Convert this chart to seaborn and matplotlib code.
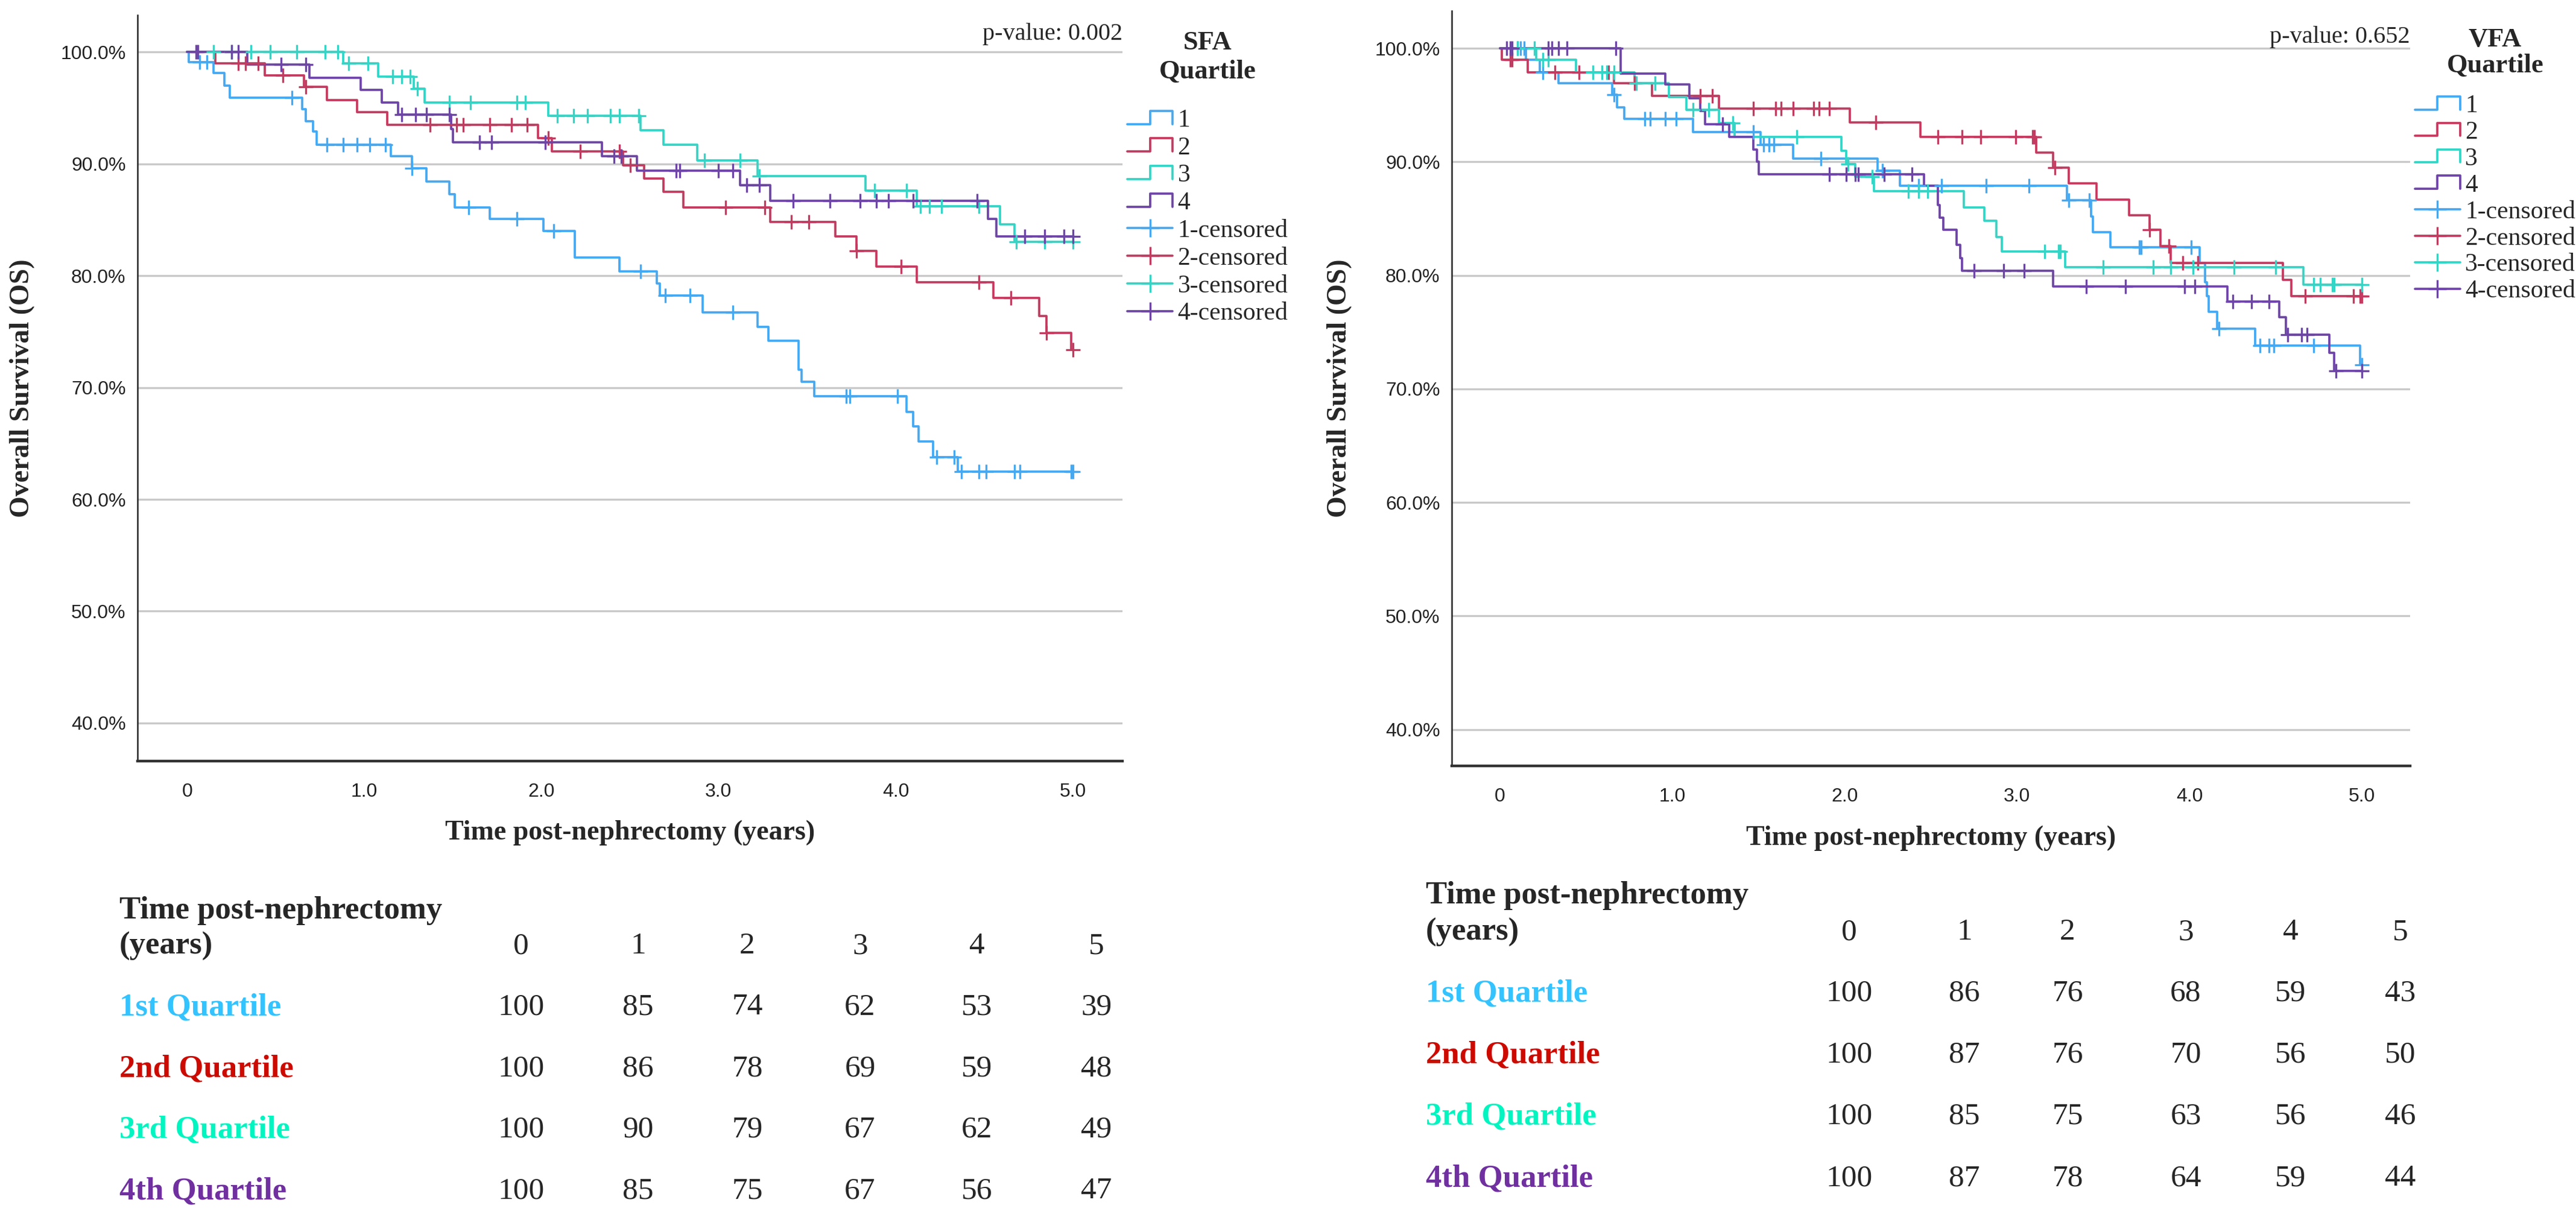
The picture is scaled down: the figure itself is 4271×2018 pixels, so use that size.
import numpy as np
import pandas as pd
import matplotlib
matplotlib.use("Agg")
import matplotlib.pyplot as plt
from matplotlib.lines import Line2D
from matplotlib.legend_handler import HandlerBase
import seaborn as sns

# ---------------- data ----------------
groups = ["1", "2", "3", "4"]

# SFA panel: event times (years) and survival (%) after each drop, censor times
sfa_t1 = [0.01, 0.15, 0.21, 0.24, 0.65, 0.67, 0.71, 0.73, 1.15, 1.27, 1.35, 1.48, 1.51, 1.71, 2.01,
          2.19, 2.44, 2.65, 2.67, 2.91, 3.22, 3.28, 3.45, 3.47, 3.54, 4.06, 4.10, 4.13, 4.21, 4.35]
sfa_s1 = [99.1, 98.1, 97.0, 95.9, 94.9, 93.8, 92.9, 91.7, 90.7, 89.6, 88.4, 87.3, 86.1, 85.1, 84.0,
          81.6, 80.4, 79.3, 78.2, 76.7, 75.4, 74.2, 71.6, 70.5, 69.2, 67.8, 66.5, 65.2, 63.8, 62.5]
sfa_c1 = [0.07, 0.11, 0.59, 0.79, 0.88, 0.96, 1.03, 1.12, 1.27, 1.59, 1.86, 2.07, 2.56, 2.70, 2.84,
          3.08, 3.72, 3.74, 4.01, 4.23, 4.33, 4.37, 4.47, 4.51, 4.67, 4.70, 4.99, 5.0]

sfa_t2 = [0.16, 0.44, 0.66, 0.79, 0.96, 1.13, 1.98, 2.06, 2.46, 2.58, 2.69, 2.80, 3.29, 3.66, 3.78,
          3.89, 4.12, 4.55, 4.81, 4.85, 4.99]
sfa_s2 = [99.0, 97.9, 96.9, 95.7, 94.6, 93.5, 92.3, 91.1, 89.9, 88.7, 87.5, 86.1, 84.8, 83.5, 82.2,
          80.8, 79.4, 78.0, 76.4, 74.9, 73.4]
sfa_c2 = [0.29, 0.33, 0.40, 0.54, 0.67, 1.37, 1.52, 1.56, 1.71, 1.83, 1.92, 2.04, 2.22, 2.44, 2.50,
          3.04, 3.26, 3.41, 3.51, 3.78, 4.03, 4.47, 4.65, 4.85, 5.0]

sfa_t3 = [0.88, 1.08, 1.28, 1.34, 2.04, 2.56, 2.69, 2.88, 3.22, 3.83, 4.12, 4.59, 4.67]
sfa_s3 = [99.0, 97.8, 96.7, 95.5, 94.3, 93.0, 91.7, 90.3, 88.9, 87.6, 86.2, 84.6, 83.0]
sfa_c3 = [0.15, 0.25, 0.36, 0.47, 0.62, 0.78, 0.85, 0.91, 1.02, 1.16, 1.21, 1.26, 1.30, 1.48, 1.60,
          1.86, 1.91, 2.09, 2.18, 2.26, 2.39, 2.44, 2.55, 2.92, 3.12, 3.23, 3.88, 4.06, 4.14, 4.19,
          4.26, 4.47, 4.68, 4.84, 5.0]

sfa_t4 = [0.34, 0.69, 0.98, 1.10, 1.19, 1.49, 1.50, 2.34, 2.54, 3.12, 3.29, 4.52, 4.57]
sfa_s4 = [98.9, 97.7, 96.6, 95.5, 94.4, 93.1, 91.9, 90.7, 89.4, 88.1, 86.7, 85.1, 83.5]
sfa_c4 = [0.05, 0.06, 0.25, 0.29, 0.53, 0.67, 1.21, 1.29, 1.35, 1.48, 1.65, 1.72, 2.02, 2.41, 2.45,
          2.76, 2.78, 3.00, 3.08, 3.16, 3.23, 3.42, 3.63, 3.80, 3.89, 3.96, 4.10, 4.46, 4.73, 4.84,
          4.95, 5.0]

# VFA panel
vfa_t1 = [0.15, 0.23, 0.34, 0.65, 0.68, 0.72, 1.12, 1.51, 1.70, 2.19, 2.32, 3.29, 3.43, 3.44, 3.54,
          4.06, 4.09, 4.10, 4.11, 4.16, 4.38, 4.99]
vfa_s1 = [99.0, 97.9, 96.9, 95.9, 94.8, 93.8, 92.6, 91.5, 90.3, 89.2, 87.9, 86.6, 85.2, 83.8, 82.5,
          81.1, 79.4, 78.2, 76.8, 75.3, 73.8, 72.1]
vfa_c1 = [0.10, 0.12, 0.14, 0.25, 0.66, 0.84, 0.87, 0.96, 1.02, 1.47, 1.53, 1.56, 1.59, 1.86, 2.22,
          2.43, 2.56, 2.82, 3.07, 3.30, 3.42, 3.71, 3.72, 4.01, 4.17, 4.41, 4.46, 4.49, 4.72, 5.0]

vfa_t2 = [0.01, 0.16, 0.66, 0.88, 1.27, 2.03, 2.44, 3.11, 3.21, 3.30, 3.46, 3.65, 3.77, 3.83, 3.89,
          4.54, 4.59]
vfa_s2 = [99.0, 97.9, 96.9, 95.8, 94.7, 93.5, 92.2, 90.8, 89.5, 88.1, 86.7, 85.3, 84.0, 82.6, 81.1,
          79.6, 78.2]
vfa_c2 = [0.06, 0.07, 0.32, 0.46, 0.63, 0.78, 1.16, 1.23, 1.47, 1.60, 1.63, 1.70, 1.82, 1.85, 1.91,
          2.18, 2.54, 2.68, 2.79, 2.99, 3.09, 3.10, 3.22, 3.77, 3.88, 3.96, 4.05, 4.67, 4.95, 4.99, 5.0]

vfa_t3 = [0.21, 0.44, 0.78, 0.98, 1.08, 1.27, 1.36, 1.98, 2.01, 2.06, 2.17, 2.69, 2.81, 2.88, 2.91,
          3.28, 4.66]
vfa_s3 = [99.0, 97.9, 96.9, 95.7, 94.6, 93.4, 92.2, 91.0, 89.8, 88.7, 87.4, 86.0, 84.8, 83.4, 82.1,
          80.7, 79.2]
vfa_c3 = [0.10, 0.20, 0.25, 0.28, 0.54, 0.59, 0.62, 0.66, 0.79, 0.90, 1.12, 1.21, 1.35, 1.72, 2.02,
          2.16, 2.37, 2.43, 2.48, 3.16, 3.24, 3.25, 3.50, 3.79, 3.89, 4.02, 4.26, 4.50, 4.72, 4.76,
          4.83, 4.84, 5.0]

vfa_t4 = [0.70, 0.96, 1.10, 1.16, 1.19, 1.33, 1.47, 1.49, 1.50, 2.46, 2.54, 2.55, 2.57, 2.65, 2.67,
          2.68, 3.21, 4.22, 4.52, 4.56, 4.81, 4.84]
vfa_s4 = [97.8, 96.8, 95.6, 94.5, 93.3, 92.2, 91.1, 90.0, 88.9, 87.9, 86.2, 85.1, 84.0, 82.7, 81.5,
          80.4, 79.0, 77.7, 76.3, 74.8, 73.2, 71.6]
vfa_c4 = [0.04, 0.06, 0.07, 0.28, 0.30, 0.34, 0.39, 0.67, 1.29, 1.91, 2.01, 2.06, 2.08, 2.23, 2.39,
          2.75, 2.92, 3.04, 3.40, 3.63, 3.97, 4.03, 4.25, 4.36, 4.46, 4.57, 4.65, 4.68, 4.85, 5.0]

sfa_pvalue = "p-value: 0.002"
vfa_pvalue = "p-value: 0.652"

# numbers at risk tables
table_years = ["0", "1", "2", "3", "4", "5"]
row_labels = ["1st Quartile", "2nd Quartile", "3rd Quartile", "4th Quartile"]
sfa_risk = [[100, 85, 74, 62, 53, 39],
            [100, 86, 78, 69, 59, 48],
            [100, 90, 79, 67, 62, 49],
            [100, 85, 75, 67, 56, 47]]
vfa_risk = [[100, 86, 76, 68, 59, 43],
            [100, 87, 76, 70, 56, 50],
            [100, 85, 75, 63, 56, 46],
            [100, 87, 78, 64, 59, 44]]

# ---------------- style ----------------
line_colors = ["#45A9F2", "#C33B60", "#33D5C6", "#6E45A7"]
row_colors = ["#33C3FF", "#CC0A00", "#00F5C0", "#7030A0"]

sns.set_style("white")
plt.rcParams["font.family"] = ["Liberation Serif", "DejaVu Serif"]
SANS = ["Liberation Sans", "DejaVu Sans"]

W, H, DPI = 4271, 2018, 200
fig = plt.figure(figsize=(W / DPI, H / DPI), dpi=DPI)


def px_axes(x0, y0, x1, y1):
    return fig.add_axes([x0 / W, 1 - y1 / H, (x1 - x0) / W, (y1 - y0) / H])


class StepHandler(HandlerBase):
    def create_artists(self, legend, orig_handle, xdescent, ydescent, width, height, fontsize, trans):
        x0, y0 = -xdescent, -ydescent
        xs = [x0, x0 + width * 0.5, x0 + width * 0.5, x0 + width, x0 + width]
        ys = [y0 + height * 0.15, y0 + height * 0.15, y0 + height * 0.9, y0 + height * 0.9, y0 + height * 0.15]
        ln = Line2D(xs, ys, color=orig_handle.get_color(), lw=orig_handle.get_linewidth())
        ln.set_transform(trans)
        return [ln]


def km_frame(times, surv, cens, name):
    last = max(cens + times)
    t = [0.0] + list(times) + [last]
    s = [100.0] + list(surv) + [surv[-1]]
    curve = pd.DataFrame({"t": t, "s": s, "group": name})
    idx = np.searchsorted(np.array(t), np.array(cens), side="right") - 1
    marks = pd.DataFrame({"t": cens, "s": np.array(s)[idx], "group": name})
    return curve, marks


def draw_panel(ax, series, title, pvalue, ylim, pval_y, leg_y, leg_sep, leg_space, title_ls):
    curves, marks = [], []
    for g, (tt, ss, cc) in zip(groups, series):
        c, m = km_frame(tt, ss, cc, g)
        curves.append(c)
        marks.append(m)
    curves = pd.concat(curves)
    marks = pd.concat(marks)
    pal = dict(zip(groups, line_colors))

    for y in [40, 50, 60, 70, 80, 90, 100]:
        ax.axhline(y, color="#C9C9C9", lw=1.2, zorder=0)

    sns.lineplot(data=curves, x="t", y="s", hue="group", palette=pal, estimator=None,
                 sort=False, drawstyle="steps-post", lw=1.35, legend=False, ax=ax)
    for g in groups:
        sub = marks[marks.group == g]
        ax.scatter(sub.t, sub.s, marker="+", s=75, lw=1.2, color=pal[g], zorder=3)

    ax.set_xlim(-0.28, 5.28)
    ax.set_ylim(*ylim)
    ax.set_xticks([0, 1, 2, 3, 4, 5])
    ax.set_xticklabels(["0", "1.0", "2.0", "3.0", "4.0", "5.0"], family=SANS, fontsize=11.5)
    ax.set_yticks([40, 50, 60, 70, 80, 90, 100])
    ax.set_yticklabels([f"{v:.1f}%" for v in [40, 50, 60, 70, 80, 90, 100]], family=SANS, fontsize=11.5)
    ax.tick_params(axis="both", length=0, colors="#222222")
    ax.tick_params(axis="x", pad=13)
    ax.tick_params(axis="y", pad=7)

    for side in ["top", "right"]:
        ax.spines[side].set_visible(False)
    ax.spines["left"].set_color("#222222")
    ax.spines["left"].set_linewidth(0.9)
    ax.spines["bottom"].set_color("#333333")
    ax.spines["bottom"].set_linewidth(1.6)

    ax.set_xlabel("Time post-nephrectomy (years)", fontsize=16.5, fontweight="bold")
    ax.set_ylabel("Overall Survival (OS)", fontsize=16.5, fontweight="bold")
    ax.xaxis.set_label_coords(0.5, -0.096)
    ax.xaxis.label.set_va("center")
    ax.yaxis.set_label_coords(-0.117, 0.5)
    ax.yaxis.label.set_va("center")

    ax.text(1.0, pval_y, pvalue, transform=ax.get_yaxis_transform(), ha="right", va="center", fontsize=14.5)

    handles = [Line2D([], [], color=c, lw=1.35) for c in line_colors]
    handles += [Line2D([], [], color=c, lw=1.35, marker="+", markersize=11, markeredgewidth=1.2)
                for c in line_colors]
    labels = groups + [f"{g}-censored" for g in groups]
    hmap = {h: StepHandler() for h in handles[:4]}
    leg = ax.legend(handles, labels, handler_map=hmap, loc="upper left", bbox_to_anchor=(1.005, leg_y),
                    frameon=False, fontsize=15, title=title,
                    title_fontproperties={"family": "Liberation Serif", "weight": "bold", "size": 16},
                    handlelength=1.8, handletextpad=0.2, labelspacing=leg_space, borderaxespad=0, borderpad=0)
    leg.get_title().set_multialignment("center")
    leg.get_title().set_linespacing(title_ls)
    leg._legend_box.sep = leg_sep


def draw_table(label_x, head_y, cols_x, rows_y, risk):
    fig.text(label_x / W, 1 - head_y[0] / H, "Time post-nephrectomy", fontsize=19, fontweight="bold",
             ha="left", va="center")
    fig.text(label_x / W, 1 - head_y[1] / H, "(years)", fontsize=19, fontweight="bold", ha="left", va="center")
    for x, yr in zip(cols_x, table_years):
        fig.text(x / W, 1 - head_y[1] / H, yr, fontsize=18.5, ha="center", va="center")
    for y, lab, col, vals in zip(rows_y, row_labels, row_colors, risk):
        fig.text(label_x / W, 1 - y / H, lab, fontsize=19, fontweight="bold", color=col, ha="left", va="center")
        for x, v in zip(cols_x, vals):
            fig.text(x / W, 1 - y / H, str(v), fontsize=18.5, ha="center", va="center")


ax1 = px_axes(228, 25, 1861, 1262)
draw_panel(ax1, [(sfa_t1, sfa_s1, sfa_c1), (sfa_t2, sfa_s2, sfa_c2), (sfa_t3, sfa_s3, sfa_c3),
                 (sfa_t4, sfa_s4, sfa_c4)], "SFA\nQuartile", sfa_pvalue, (36.6, 103.3),
           101.6, 0.979, 15, 0.175, 1.25)

ax2 = px_axes(2407, 18, 3996, 1270)
draw_panel(ax2, [(vfa_t1, vfa_s1, vfa_c1), (vfa_t2, vfa_s2, vfa_c2), (vfa_t3, vfa_s3, vfa_c3),
                 (vfa_t4, vfa_s4, vfa_c4)], "VFA\nQuartile", vfa_pvalue, (36.8, 103.3),
           101.0, 0.978, 10, 0.13, 1.1)

draw_table(198, (1510, 1569), [864, 1058, 1239, 1426, 1620, 1818], [1670, 1772, 1873, 1975], sfa_risk)
draw_table(2364, (1485, 1546), [3066, 3257, 3428, 3624, 3798, 3980], [1647, 1749, 1851, 1954], vfa_risk)

fig.savefig("out.png", dpi=DPI, facecolor="white")
